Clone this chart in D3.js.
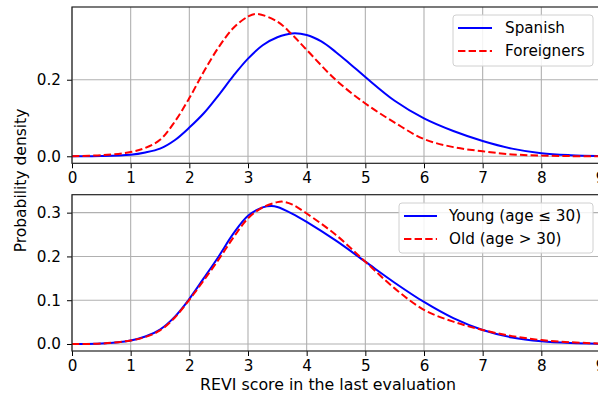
<!DOCTYPE html>
<html><head><meta charset="utf-8">
<script src="https://cdn.jsdelivr.net/npm/d3@7"></script>
<style>body{margin:0;background:#fff}svg{display:block;font-family:"DejaVu Sans",sans-serif}</style>
</head><body><svg id="c" width="598" height="396"></svg>
<script>
const xTicks = [0,1,2,3,4,5,6,7,8,9];
const topYTicks = [0, 0.2];
const botYTicks = [0, 0.1, 0.2, 0.3];

const spanishX = [0,0.5,1,1.25,1.5,1.75,2,2.25,2.5,2.75,3,3.25,3.5,3.75,4,4.25,4.5,4.75,5,5.5,6,6.5,7,7.5,8,8.5,9];
const spanishY = [0,0.0005,0.004,0.01,0.02,0.042,0.075,0.113,0.16,0.21,0.255,0.29,0.311,0.321,0.317,0.3,0.272,0.24,0.207,0.145,0.099,0.066,0.04,0.02,0.008,0.003,0.001];
const foreignX = [0,0.5,1,1.25,1.5,1.75,2,2.25,2.5,2.75,3,3.15,3.5,3.75,4,4.5,5,5.5,6,6.5,7,7.5,8,8.5,9];
const foreignY = [0,0.003,0.011,0.022,0.043,0.09,0.152,0.222,0.285,0.335,0.365,0.372,0.352,0.318,0.278,0.199,0.138,0.088,0.045,0.024,0.013,0.005,0.002,0.0005,0];
const youngX = [0,0.5,1,1.25,1.5,1.75,2,2.25,2.5,2.75,3,3.25,3.4,3.5,3.75,4,4.5,5,5.5,6,6.5,7,7.5,8,8.5,9];
const youngY = [0,0.001,0.008,0.017,0.033,0.062,0.103,0.151,0.2,0.252,0.293,0.312,0.315,0.313,0.298,0.279,0.236,0.188,0.14,0.096,0.059,0.032,0.015,0.006,0.002,0.0005];
const oldX = [0,0.5,1,1.25,1.5,1.75,2,2.25,2.5,2.75,3,3.25,3.5,3.6,3.75,4,4.5,5,5.5,6,6.5,7,7.5,8,8.5,9];
const oldY = [0,0.001,0.008,0.016,0.031,0.06,0.101,0.146,0.193,0.243,0.287,0.312,0.324,0.325,0.319,0.298,0.249,0.188,0.127,0.078,0.051,0.032,0.018,0.009,0.004,0.001];

const topLegend = ["Spanish", "Foreigners"];
const botLegend = ["Young (age \u2264 30)", "Old (age > 30)"];

const svg = d3.select("#c");
const L = 72, R = 600;
const x = d3.scaleLinear().domain([0, 9]).range([L, R]);
const FS = 15.2;

function panel(top, bottom, yDom, yTicks, series, legend, lg) {
  const y = d3.scaleLinear().domain(yDom).range([bottom, top]);
  const g = svg.append("g");
  g.selectAll(".gx").data(xTicks).enter().append("line")
    .attr("x1", d => x(d)).attr("x2", d => x(d)).attr("y1", top).attr("y2", bottom)
    .attr("stroke", "#b0b0b0").attr("stroke-width", 1.1);
  g.selectAll(".gy").data(yTicks).enter().append("line")
    .attr("x1", L).attr("x2", R).attr("y1", d => y(d)).attr("y2", d => y(d))
    .attr("stroke", "#b0b0b0").attr("stroke-width", 1.1);
  series.forEach(s => {
    const pts = s.xs.map((v, i) => [v, s.ys[i]]);
    g.append("path").datum(pts)
      .attr("d", d3.line().x(d => x(d[0])).y(d => y(d[1])).curve(d3.curveCatmullRom.alpha(0.5)))
      .attr("fill", "none").attr("stroke", s.color).attr("stroke-width", 2)
      .attr("stroke-dasharray", s.dash || null);
  });
  const ax = d3.axisBottom(x).tickValues(xTicks).tickFormat(d3.format("d")).tickSize(5).tickPadding(4);
  const gx = svg.append("g").attr("transform", `translate(0,${bottom})`).call(ax);
  const ay = d3.axisLeft(y).tickValues(yTicks).tickFormat(d3.format(".1f")).tickSize(5).tickPadding(6);
  const gy = svg.append("g").attr("transform", `translate(${L},0)`).call(ay);
  [gx, gy].forEach(a => {
    a.select(".domain").remove();
    a.selectAll("text").attr("font-size", FS).attr("font-family", "DejaVu Sans").attr("fill", "#000");
    a.selectAll("line").attr("stroke", "#000").attr("stroke-width", 1);
  });
  svg.append("rect").attr("x", L).attr("y", top).attr("width", R - L).attr("height", bottom - top)
    .attr("fill", "none").attr("stroke", "#222").attr("stroke-width", 1.2);
  const lgG = svg.append("g");
  lgG.append("rect").attr("x", lg.x0).attr("y", lg.y0).attr("width", lg.x1 - lg.x0).attr("height", lg.y1 - lg.y0)
    .attr("rx", 3).attr("fill", "#fff").attr("fill-opacity", 0.85).attr("stroke", "#d0d0d0").attr("stroke-width", 1);
  legend.forEach((name, i) => {
    const yy = lg.rows[i];
    lgG.append("line").attr("x1", lg.l0).attr("x2", lg.l1).attr("y1", yy).attr("y2", yy)
      .attr("stroke", series[i].color).attr("stroke-width", 2).attr("stroke-dasharray", series[i].dash || null);
    lgG.append("text").attr("x", lg.tx).attr("y", yy).attr("dy", "0.35em")
      .attr("font-size", FS).attr("fill", "#000").text(name);
  });
}

panel(7, 163.3, [-0.0183, 0.39], topYTicks,
  [{xs: spanishX, ys: spanishY, color: "#0000ff"}, {xs: foreignX, ys: foreignY, color: "#ff0000", dash: "7.4,3.2"}],
  topLegend, {x0: 453, y0: 15, x1: 593, y1: 66, rows: [28, 51], l0: 458, l1: 492, tx: 505});

panel(194.7, 351, [-0.016, 0.341], botYTicks,
  [{xs: youngX, ys: youngY, color: "#0000ff"}, {xs: oldX, ys: oldY, color: "#ff0000", dash: "7.4,3.2"}],
  botLegend, {x0: 399, y0: 203, x1: 593, y1: 253, rows: [216, 239], l0: 404, l1: 437, tx: 449});

svg.append("text").attr("x", 328).attr("y", 384).attr("dy", "0.35em").attr("text-anchor", "middle")
  .attr("font-size", 15.8).attr("fill", "#000").text("REVI score in the last evaluation");
svg.append("text").attr("transform", "translate(21,180.5) rotate(-90)").attr("dy", "0.35em").attr("text-anchor", "middle")
  .attr("font-size", 15.5).attr("fill", "#000").text("Probability density");
</script></body></html>
